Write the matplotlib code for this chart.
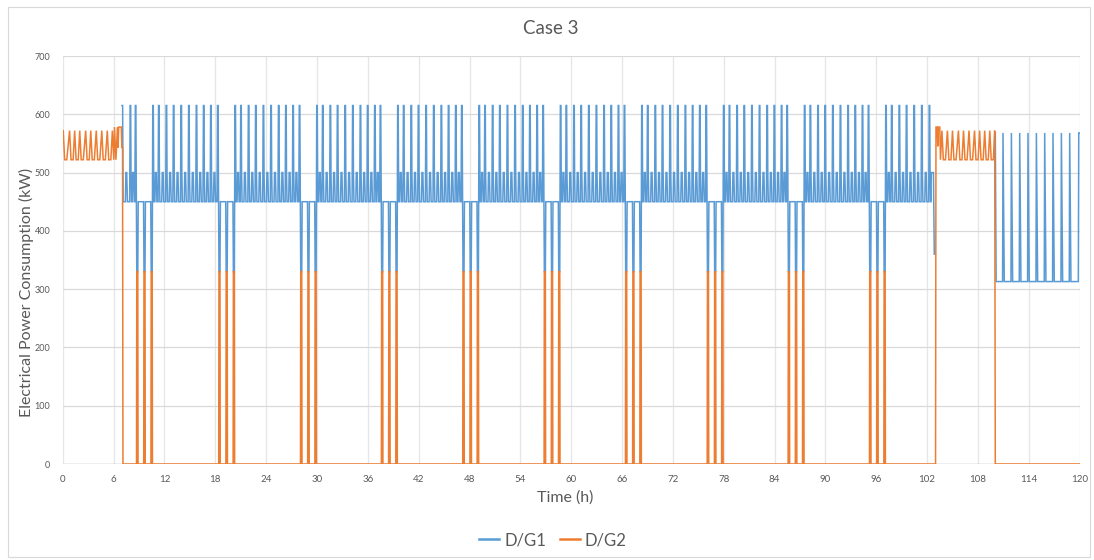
import numpy as np
import matplotlib
matplotlib.use("Agg")
import matplotlib.pyplot as plt
from matplotlib.patches import Rectangle
from matplotlib.lines import Line2D

# ---------------- data ----------------
title = "Case 3"
x_label = "Time (h)"
y_label = "Electrical Power Consumption (kW)"
series_names = ["D/G1", "D/G2"]
x_ticks = list(range(0, 121, 6))
y_ticks = list(range(0, 701, 100))

# power levels (kW)
G1_PEAK = 615
G1_STEP = 500
G1_BASE = 450
SHARED = 330
G2_OSC_HI = 572
G2_OSC_LO = 522
G1_TAIL_HI = 568
G1_TAIL_LO = 313

# D/G2 running alone: crest times of the oscillation (h)
g2_crests_first = [0.05, 0.8, 1.4, 2.0, 2.7, 3.3, 3.95, 4.6, 5.25, 5.85]
g2_hold_first_t = [6.1, 6.45, 6.52, 6.6, 6.9, 6.97, 7.05]
g2_hold_first_v = [578, 578, 543, 578, 578, 543, 543]
g2_first_off = 7.1
g2_second_on = 103.0
g2_hold_second_t = [103.05, 103.2, 103.26, 103.33, 103.5]
g2_hold_second_v = [578, 578, 545, 578, 578]
g2_crests_second = [103.75, 104.4, 105.0, 105.7, 106.3, 106.95, 107.6, 108.2,
                    108.8, 109.4, 109.98]
g2_second_off = 110.05

# D/G1 main operation
g1_on = 7.0
g1_first_peaks = [7.95]
shared_group_starts = [8.7, 18.4, 28.05, 37.6, 47.2, 56.8, 66.4, 76.05, 85.6, 95.2]
shared_offsets = [0.0, 0.85, 1.7]
g1_peak_offsets = [2.6, 3.5, 4.35, 5.25, 6.15, 7.05, 7.9, 8.75]
g1_off = 102.85
# D/G1 tail (after D/G2 switches off)
g1_tail_on = 110.05
g1_tail_peaks = [110.96, 111.95, 112.93, 113.91, 114.9, 115.88, 116.86,
                 117.85, 118.83, 119.9]

# ---------------- build the two series ----------------
t1, v1 = [], []
t2, v2 = [], []


def a1(t, v):
    t1.append(t); v1.append(v)


def a2(t, v):
    t2.append(t); v2.append(v)


# ----- D/G1 -----
events = [("P", p) for p in g1_first_peaks]
for s in shared_group_starts:
    events.append(("G", s))
    for o in g1_peak_offsets:
        if s + o < g1_off - 0.4:
            events.append(("P", s + o))
events.sort(key=lambda e: e[1])

a1(g1_on, G1_PEAK)
a1(g1_on + 0.06, G1_PEAK)
a1(g1_on + 0.12, G1_BASE)
last_end = g1_on + 0.12


def bump(start, end):
    if end - start > 0.35:
        m = 0.5 * (start + end)
        a1(m - 0.12, G1_BASE)
        a1(m - 0.06, G1_STEP)
        a1(m + 0.04, G1_STEP)
        a1(m + 0.12, G1_BASE)


for kind, t in events:
    if kind == "P":
        bump(last_end, t - 0.06)
        a1(t - 0.06, G1_BASE)
        a1(t, G1_PEAK)
        a1(t + 0.06, G1_PEAK)
        a1(t + 0.1, G1_STEP)
        a1(t + 0.16, G1_BASE)
        last_end = t + 0.16
    else:
        s = t
        bump(last_end, s - 0.2)
        a1(s - 0.2, G1_BASE)
        a1(s - 0.14, G1_PEAK)
        a1(s - 0.08, G1_PEAK)
        for i, d in enumerate(shared_offsets):
            if i > 0:
                a1(s + d - 0.02, G1_BASE)
            a1(s + d + 0.03, SHARED)
            a1(s + d + 0.15, SHARED)
            if i < len(shared_offsets) - 1:
                a1(s + d + 0.2, G1_BASE)
        d = shared_offsets[-1]
        a1(s + d + 0.22, G1_PEAK)
        a1(s + d + 0.28, G1_PEAK)
        a1(s + d + 0.34, G1_BASE)
        last_end = s + d + 0.34
        # D/G2 shares the load during the same intervals
        for d in shared_offsets:
            a2(s + d, 0)
            a2(s + d + 0.03, SHARED)
            a2(s + d + 0.15, SHARED)
            a2(s + d + 0.18, 0)

a1(g1_off - 0.4, G1_BASE)
a1(g1_off - 0.35, G1_STEP)
a1(g1_off - 0.1, G1_STEP)
a1(g1_off, 360)
a1(g1_off + 0.01, np.nan)

a1(g1_tail_on - 0.01, np.nan)
a1(g1_tail_on, G1_TAIL_HI)
a1(g1_tail_on + 0.1, G1_TAIL_LO)
for i, p in enumerate(g1_tail_peaks):
    a1(p - 0.05, G1_TAIL_LO)
    a1(p, G1_TAIL_HI)
    if i < len(g1_tail_peaks) - 1:
        a1(p + 0.15, G1_TAIL_LO)
    else:
        a1(120.0, G1_TAIL_HI)

# ----- D/G2 -----
for c in g2_crests_first:
    a2(c, G2_OSC_HI)
    a2(c + 0.17, G2_OSC_LO)
    a2(c + 0.42, G2_OSC_LO)
for t, v in zip(g2_hold_first_t, g2_hold_first_v):
    a2(t, v)
a2(g2_first_off, 0)
a2(g2_second_on, 0)
for t, v in zip(g2_hold_second_t, g2_hold_second_v):
    a2(t, v)
a2(g2_hold_second_t[-1] + 0.08, G2_OSC_LO)
for i, c in enumerate(g2_crests_second):
    a2(c, G2_OSC_HI)
    if i < len(g2_crests_second) - 1:
        a2(c + 0.17, G2_OSC_LO)
        a2(c + 0.42, G2_OSC_LO)
a2(g2_second_off, 0)
a2(120.0, 0)

o2 = np.argsort(t2, kind="stable")
t2 = np.array(t2)[o2]
v2 = np.array(v2)[o2]
t1 = np.array(t1)
v1 = np.array(v1)

# ---------------- figure ----------------
W, H = 1094, 560
fig = plt.figure(figsize=(W / 100, H / 100), dpi=100)
fig.patch.set_facecolor("white")
fig.add_artist(Rectangle((8 / W, 3 / H), (W - 12) / W, (H - 10) / H,
                         transform=fig.transFigure, fill=False,
                         edgecolor="#D9D9D9", lw=0.8))

ax = fig.add_axes([62.8 / W, (H - 464) / H, (1079.6 - 62.8) / W, (464 - 56) / H])
ax.set_xlim(0, 120)
ax.set_ylim(0, 700)

font = ["Lato", "DejaVu Sans"]
ax.set_xticks(x_ticks)
ax.set_yticks(y_ticks)
ax.set_xticklabels([str(x) for x in x_ticks], fontsize=7, color="#595959", family=font)
ax.set_yticklabels([str(y) for y in y_ticks], fontsize=6.5, color="#595959", family=font)
ax.tick_params(axis="x", length=0, pad=8)
ax.tick_params(axis="y", length=0, pad=9)
for sp in ax.spines.values():
    sp.set_visible(False)
ax.grid(axis="y", color="#D9D9D9", lw=0.9)
ax.grid(axis="x", color="#E6E6E6", lw=0.9)
ax.axhline(0, color="#BFBFBF", lw=1.0, zorder=1)
ax.set_axisbelow(True)

blue = "#5B9BD5"
orange = "#ED7D31"
ax.plot(t1, v1, color=blue, lw=1.1, solid_joinstyle="miter", zorder=3)
ax.plot(t2, v2, color=orange, lw=1.1, solid_joinstyle="miter", zorder=4)

fig.text(0.503, 1 - 29 / H, title, ha="center", va="center", fontsize=13.5,
         color="#595959", family=font)
fig.text(565 / W, 1 - 498 / H, x_label, ha="center", va="center", fontsize=11.5,
         color="#595959", family=font)
fig.text(26 / W, 1 - 292 / H, y_label, ha="center", va="center", rotation=90,
         fontsize=11.5, color="#595959", family=font)

handles = [Line2D([], [], color=blue, lw=1.8), Line2D([], [], color=orange, lw=1.8)]
leg = fig.legend(handles, series_names, loc="center", bbox_to_anchor=(553 / W, 1 - 540 / H),
                 ncol=2, frameon=False, handlelength=1.2, handletextpad=0.3,
                 columnspacing=0.8, prop={"family": font, "size": 12})
for txt in leg.get_texts():
    txt.set_color("#595959")

fig.savefig("out.png", dpi=100)
